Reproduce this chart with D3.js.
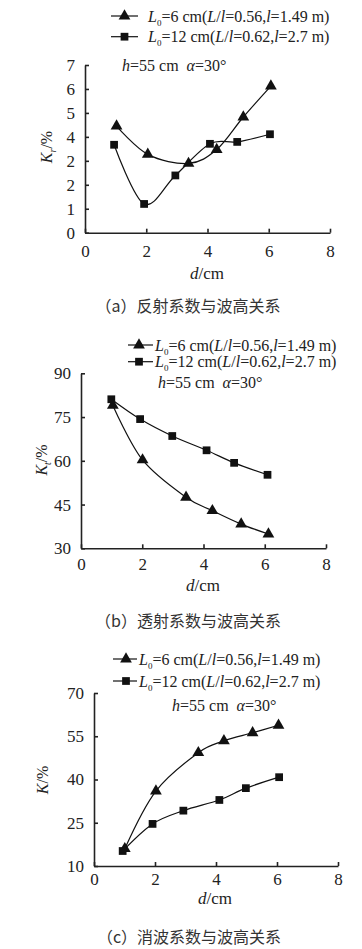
<!DOCTYPE html>
<html>
<head>
<meta charset="utf-8">
<script src="https://cdn.jsdelivr.net/npm/d3@7"></script>
<style>
  body { margin: 0; background: #fff; }
  svg { display: block; }
  text { font-family: "Liberation Serif", "Times New Roman", serif; fill: #222; }
  .cap { font-family: "Noto Sans CJK SC", sans-serif; fill: #333; }
</style>
</head>
<body>
<svg></svg>
<script>
const width = 362, height = 949;
const svg = d3.select("svg").attr("width", width).attr("height", height);

// (a) reflection coefficient
const reflD6 = [1.03, 2.05, 3.38, 4.30, 5.17, 6.07];
const reflK6 = [4.45, 3.27, 2.89, 3.47, 4.83, 6.12];
const reflD12 = [0.95, 1.93, 2.95, 4.08, 4.97, 6.04];
const reflK12 = [3.67, 1.20, 2.39, 3.71, 3.79, 4.11];
const reflTicks = [0, 1, 2, 3, 4, 5, 6, 7];
const reflTickLabels = ["0", "1", "2", "2", "4", "5", "6", "7"];

// (b) transmission coefficient
const transD6 = [1.04, 2.01, 3.43, 4.29, 5.23, 6.12];
const transK6 = [79.0, 60.3, 47.5, 42.9, 38.3, 34.9];
const transD12 = [0.99, 1.93, 2.98, 4.10, 5.00, 6.09];
const transK12 = [81.1, 74.3, 68.5, 63.6, 59.3, 55.2];
const transTicks = [30, 45, 60, 75, 90];

// (c) dissipation coefficient
const dissD6 = [1.01, 2.03, 3.42, 4.26, 5.20, 6.05];
const dissK6 = [16.0, 36.0, 49.3, 53.4, 56.2, 58.8];
const dissD12 = [0.94, 1.92, 2.93, 4.11, 4.98, 6.07];
const dissK12 = [15.2, 24.6, 29.2, 32.9, 37.0, 40.8];
const dissTicks = [10, 25, 40, 55, 70];

const xTicks = [0, 2, 4, 6, 8];
const legendL6 = ["6", "0.56", "1.49"];
const legendL12 = ["12", "0.62", "2.7"];
const captions = ["（a）反射系数与波高关系", "（b）透射系数与波高关系", "（c）消波系数与波高关系"];

const zip = (xs, ys) => xs.map((x, i) => [x, ys[i]]);

const panels = [
  { x0: 85, x1: 330, y0: 232.7, y1: 65, dom: [0, 7], ticks: reflTicks, tickLabels: reflTickLabels,
    s6: zip(reflD6, reflK6), s12: zip(reflD12, reflK12), sub: "r", xpad: 12,
    leg: { lx0: 111, lx1: 138, mx: 124.5, ty: 16, gap: 20.7, tx: 148, hx: 122, hy: 65 },
    ylab: [47, 147], xlab: [207, 272.7], cap: [188, 306] },
  { x0: 81, x1: 326, y0: 548.3, y1: 373.3, dom: [30, 90], ticks: transTicks, tickLabels: transTicks.map(String),
    s6: zip(transD6, transK6), s12: zip(transD12, transK12), sub: "t", xpad: 10,
    leg: { lx0: 128, lx1: 153, mx: 139, ty: 345, gap: 16.7, tx: 155, hx: 158, hy: 382.7 },
    ylab: [42, 460], xlab: [203, 585], cap: [188, 621] },
  { x0: 94, x1: 338, y0: 866, y1: 693, dom: [10, 70], ticks: dissTicks, tickLabels: dissTicks.map(String),
    s6: zip(dissD6, dissK6), s12: zip(dissD12, dissK12), sub: null, xpad: 7,
    leg: { lx0: 113, lx1: 137, mx: 126, ty: 659, gap: 22, tx: 139, hx: 172, hy: 705 },
    ylab: [43, 780], xlab: [215, 897.7], cap: [189, 936.7] }
];

const tri = d3.symbol().type(d3.symbolTriangle).size(60);
const sq = d3.symbol().type(d3.symbolSquare).size(60);

function legendText(g, x, y, vals) {
  const t = g.append("text").attr("x", x).attr("y", y + 5.5).attr("font-size", 16);
  t.append("tspan").attr("font-style", "italic").text("L");
  t.append("tspan").attr("font-size", 9).attr("dy", 4).text("0");
  t.append("tspan").attr("dy", -4).text("=" + vals[0] + " cm(");
  t.append("tspan").attr("font-style", "italic").text("L");
  t.append("tspan").text("/");
  t.append("tspan").attr("font-style", "italic").text("l");
  t.append("tspan").text("=" + vals[1] + ",");
  t.append("tspan").attr("font-style", "italic").text("l");
  t.append("tspan").text("=" + vals[2] + " m)");
}

panels.forEach((p, i) => {
  const g = svg.append("g");
  const x = d3.scaleLinear().domain([0, 8]).range([p.x0, p.x1]);
  const y = d3.scaleLinear().domain(p.dom).range([p.y0, p.y1]);

  // axes, ticks pointing inward
  g.append("g").attr("transform", `translate(0,${p.y0})`)
    .call(d3.axisBottom(x).tickValues(xTicks).tickSizeInner(-4).tickSizeOuter(0).tickPadding(p.xpad))
    .call(a => a.selectAll("text").attr("font-size", 17).attr("font-family", "Liberation Serif"));
  g.append("g").attr("transform", `translate(${p.x0},0)`)
    .call(d3.axisLeft(y).tickValues(p.ticks).tickFormat((d, k) => p.tickLabels[k])
      .tickSizeInner(-4).tickSizeOuter(0).tickPadding(10))
    .call(a => a.selectAll("text").attr("font-size", 17).attr("font-family", "Liberation Serif"));
  g.selectAll(".domain, .tick line").attr("stroke", "#222").attr("stroke-width", 1.6);

  const line = d3.line().x(d => x(d[0])).y(d => y(d[1])).curve(d3.curveCardinal);
  [p.s6, p.s12].forEach((s, k) => {
    g.append("path").datum(s).attr("d", line)
      .attr("fill", "none").attr("stroke", "#111").attr("stroke-width", 1.2);
    g.selectAll(null).data(s).enter().append("path")
      .attr("d", k === 0 ? tri : sq)
      .attr("transform", d => `translate(${x(d[0])},${y(d[1])})`)
      .attr("fill", "#111");
  });

  // legend
  const L = p.leg;
  [legendL6, legendL12].forEach((vals, k) => {
    const ly = L.ty + k * L.gap;
    g.append("line").attr("x1", L.lx0).attr("x2", L.lx1).attr("y1", ly).attr("y2", ly)
      .attr("stroke", "#111").attr("stroke-width", 1.2);
    g.append("path").attr("d", k === 0 ? tri : sq)
      .attr("transform", `translate(${L.mx},${ly})`).attr("fill", "#111");
    legendText(g, L.tx, ly, vals);
  });
  const h = g.append("text").attr("x", L.hx).attr("y", L.hy + 5.5).attr("font-size", 16);
  h.append("tspan").attr("font-style", "italic").text("h");
  h.append("tspan").text("=55 cm\u00a0\u00a0");
  h.append("tspan").attr("font-style", "italic").text("α");
  h.append("tspan").text("=30°");

  // axis titles
  const yl = g.append("text").attr("font-size", 16).attr("text-anchor", "middle")
    .attr("transform", `translate(${p.ylab[0] + 5},${p.ylab[1]}) rotate(-90)`);
  yl.append("tspan").attr("font-style", "italic").text("K");
  if (p.sub) {
    yl.append("tspan").attr("font-size", 10).attr("font-style", "italic").attr("dy", 4).text(p.sub);
    yl.append("tspan").attr("dy", -4).text("/%");
  } else {
    yl.append("tspan").text("/%");
  }
  const xl = g.append("text").attr("font-size", 17).attr("text-anchor", "middle")
    .attr("x", p.xlab[0]).attr("y", p.xlab[1] + 6);
  xl.append("tspan").attr("font-style", "italic").text("d");
  xl.append("tspan").text("/cm");

  g.append("text").attr("class", "cap").attr("font-size", 16).attr("text-anchor", "middle")
    .attr("x", p.cap[0]).attr("y", p.cap[1] + 6).text(captions[i]);
});
</script>
</body>
</html>
